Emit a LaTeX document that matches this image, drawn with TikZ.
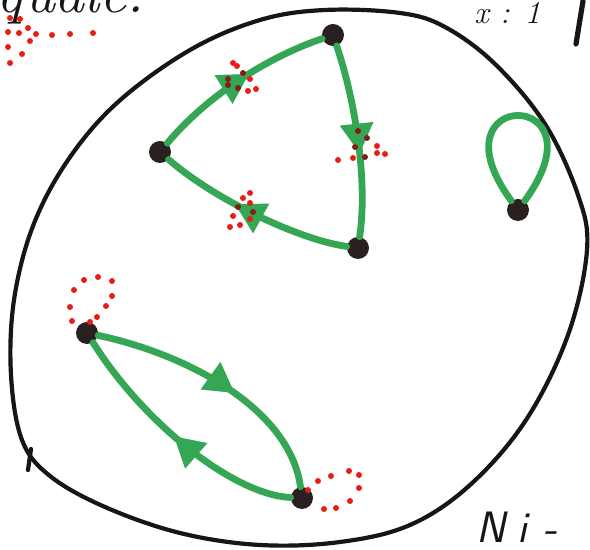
\documentclass[tikz,border=0pt]{standalone}
\usetikzlibrary{arrows.meta,decorations.markings}
\definecolor{edgegreen}{RGB}{52,166,84}
\definecolor{inkred}{RGB}{232,30,22}
\definecolor{darkred}{RGB}{130,30,22}
\definecolor{ink}{RGB}{22,22,22}
\definecolor{vertexfill}{RGB}{42,32,32}
\begin{document}
\begin{tikzpicture}[x=0.5pt,y=-0.5pt,
  vtx/.style={circle,fill=vertexfill,inner sep=0pt,minimum size=11pt},
  gedge/.style={draw=edgegreen,line width=3.4pt,line cap=round},
  midarrow/.style={postaction={decorate},decoration={markings,
    mark=at position #1 with {\arrow{Triangle[length=15pt,width=16pt,color=edgegreen]}}}},
  outline/.style={draw=ink,line width=2.1pt,line cap=round,line join=round},
  hand/.style={text=ink,inner sep=0pt},
]
\useasboundingbox (0,0) rectangle (590,550);

% outer closed curve
\draw[outline] plot[smooth cycle,tension=0.6] coordinates {
  (325,10) (400,13) (445,27) (495,64) (545,124) (578,195) (587,250)
  (568,335) (526,420) (470,485) (410,525) (340,542) (260,545) (180,533)
  (105,507) (50,476) (22,440) (11,375) (14,300) (33,226) (68,160)
  (118,102) (190,50) (260,20)};
\draw[outline] (31,449) -- (28,470);

% handwritten fragments at the corners
\node[hand,anchor=base west,font=\fontsize{30}{32}\selectfont\itshape] (ttl) at (-4,13) {quale.};
\node[hand,anchor=base west,font=\fontsize{16}{18}\selectfont\itshape] (rt) at (474,24) {x : 1};
\draw[outline,line width=2.6pt] (583,1) -- (576,44);
\node[hand,anchor=base west,font=\fontsize{22}{24}\selectfont\sffamily\itshape] (br) at (476,543) {N\hspace{6pt}i\hspace{8pt}-};

% vertices
\node[vtx] (A) at (333,35) {};
\node[vtx] (B) at (160,152) {};
\node[vtx] (C) at (358,248) {};
\node[vtx] (D) at (518,210) {};
\node[vtx] (E) at (87,333) {};
\node[vtx] (F) at (302,498) {};

% directed triangle
\draw[gedge,midarrow=0.57] (B) .. controls (205,98) and (265,58) .. (A);
\draw[gedge,midarrow=0.57] (A) .. controls (355,100) and (368,180) .. (C);
\draw[gedge,midarrow=0.6] (C) .. controls (300,240) and (215,200) .. (B);

% loop
\draw[gedge] (D) .. controls (428,87) and (608,87) .. (D);

% two-cycle
\draw[gedge,midarrow=0.56] (E) .. controls (190,355) and (290,410) .. (F);
\draw[gedge,midarrow=0.52] (F) .. controls (235,495) and (145,425) .. (E);

% red dotted marks
\foreach \p in {(10,18),(20,19),(8,32),(19,33),(28,28),(36,34),(30,41),
                (52,35),(70,34),(93,33),(8,47),(22,54),(10,63),
                (84,280),(98,277),(112,281),(112,296),(106,306),(97,317),
                (90,322),(72,321),(70,307),(74,290),
                (318,481),(331,476),(349,471),(359,475),(359,488),(350,501),
                (336,508),(324,509),(308,490),
                (233,63),(237,66),(250,79),(248,91),(256,89),
                (338,160),(353,158),(377,146),(377,153),(385,154),
                (250,193),(243,198),(250,203),(233,216),(250,219),(240,225),(230,227)}
  \fill[inkred] \p circle (3);
\foreach \p in {(243,73),(228,79),(228,85),(238,88),
                (358,131),(367,138),(355,147),(365,157),
                (238,207),(253,212)}
  \fill[darkred] \p circle (3);
\end{tikzpicture}
\end{document}
